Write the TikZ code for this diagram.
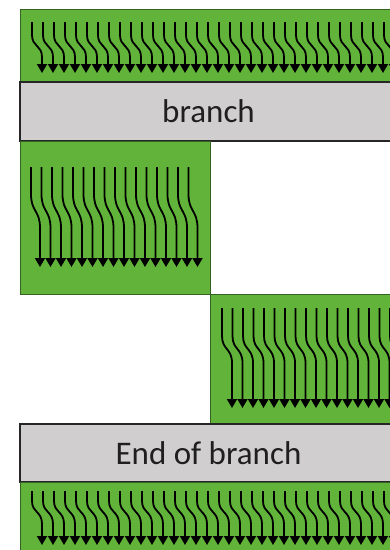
\documentclass[tikz,border=0pt]{standalone}
\usepackage{fontspec}
\setmainfont{Carlito}
\usepackage{tikz}
\usetikzlibrary{arrows.meta}
\definecolor{lawn}{RGB}{97,180,57}
\definecolor{lawnedge}{RGB}{52,98,34}
\definecolor{slab}{RGB}{208,206,206}
\definecolor{slabedge}{RGB}{38,38,38}
\tikzset{
  grass/.style ={rectangle, draw=lawnedge, fill=lawn, line width=0.9pt, inner sep=0pt, outer sep=0pt, anchor=north west},
  band/.style  ={rectangle, draw=slabedge, fill=slab, line width=1.5pt, inner sep=0pt, outer sep=0pt, anchor=north west},
  caption/.style={font=\fontsize{33}{38}\selectfont, text=black!88},
  flow/.style  ={line width=1.8pt, -{Triangle[width=10pt,length=9pt]}},
}

\begin{document}
\begin{tikzpicture}[x=1pt, y=-1pt]
\useasboundingbox (0,0) rectangle (390,550);
\clip (0,0) rectangle (390,550);

% layers, top to bottom
\node[grass, minimum width=377pt, minimum height=73pt] (topflow) at (20,9) {};
\node[band, minimum width=377pt, minimum height=59pt] (branch) at (20,82) {};
\node[grass, minimum width=190pt, minimum height=153pt] (leftflow) at (20,141) {};
\node[grass, minimum width=187pt, minimum height=130pt] (rightflow) at (210,294) {};
\node[band, minimum width=377pt, minimum height=58pt] (endbranch) at (20,424) {};
\node[grass, minimum width=377pt, minimum height=90pt] (bottomflow) at (20,482) {};

\node[caption] (branchtxt) at (branch.center) {branch};
\node[caption] (endtxt) at (endbranch.center) {End of branch};

% flow lines in the full-width layers
\foreach \i in {0,...,32} {
  \pgfmathsetmacro\x{32+11*\i}
  \draw[flow] (\x,22) -- (\x,35) .. controls (\x,47) and (\x+10,45) .. (\x+10,57) -- (\x+10,73);
  \draw[flow] (\x,491) -- (\x,501) .. controls (\x,513) and (\x+10,511) .. (\x+10,524) -- (\x+10,545);
}

% flow lines in the split layers
\foreach \i in {0,...,15} {
  \pgfmathsetmacro\x{31+10.5*\i}
  \draw[flow] (\x,167) -- (\x,194) .. controls (\x,212) and (\x+9,210) .. (\x+9,228) -- (\x+9,267);
}
\foreach \i in {0,...,16} {
  \pgfmathsetmacro\x{222+10.5*\i}
  \draw[flow] (\x,308) -- (\x,336) .. controls (\x,350) and (\x+10,348) .. (\x+10,363) -- (\x+10,408);
}

\end{tikzpicture}
\end{document}
